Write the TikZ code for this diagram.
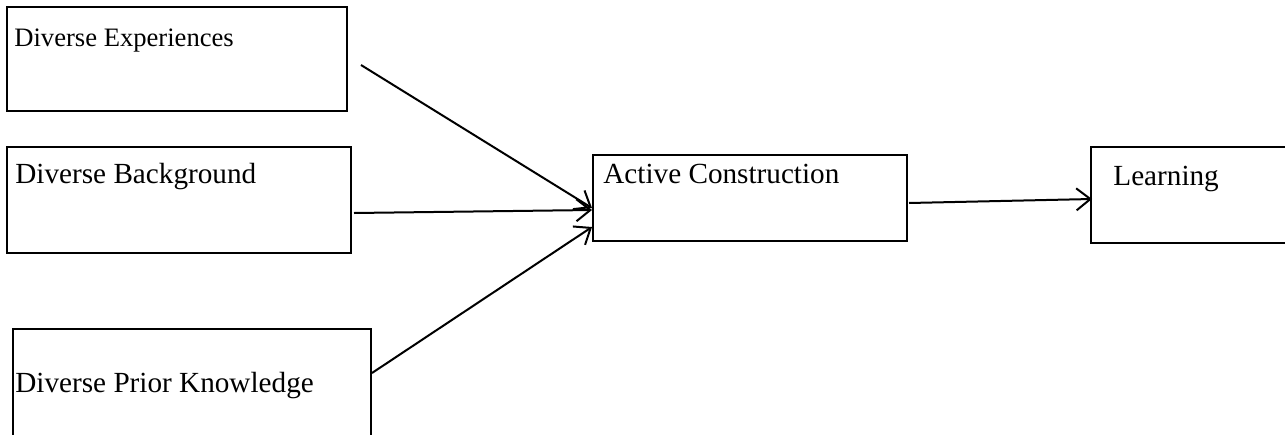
\documentclass[tikz,border=0pt]{standalone}
\usepackage{fontspec}
\setmainfont{Liberation Serif}
\usepackage{tikz}
\usetikzlibrary{arrows.meta}
\usetikzlibrary{calc}
\tikzstyle{fbox}=[draw,line width=1pt,rectangle,inner sep=0pt]
\tikzstyle{ftext}=[anchor=base west,inner sep=0pt,font=\fontsize{14.6}{17}\selectfont]
\tikzstyle{flow}=[line width=1pt,-{Straight Barb[length=7pt,width=11pt,line width=1pt]}]

\begin{document}
\begin{tikzpicture}[x=0.5pt,y=-0.5pt]
	\useasboundingbox (0,0) rectangle (1285,434);
	\node[fbox,minimum width=170pt,minimum height=52pt] (exp) at (177,59)   {};
	\node[fbox,minimum width=172pt,minimum height=53pt] (bg)  at (179,200)  {};
	\node[fbox,minimum width=179pt,minimum height=58pt] (pk)  at (192,387)  {};
	\node[fbox,minimum width=157pt,minimum height=43pt] (act) at (750,198)  {};
	\node[fbox,minimum width=102pt,minimum height=48pt] (lrn) at (1193,195) {};
	\node[ftext,font=\fontsize{13.3}{16}\selectfont] (expT) at (14,46) {Diverse Experiences};
	\node[ftext] (bgT)  at (15,183)  {Diverse Background};
	\node[ftext] (pkT)  at (15,392)  {Diverse Prior Knowledge};
	\node[ftext] (actT) at (603,183) {Active Construction};
	\node[ftext] (lrnT) at (1113,185) {Learning};
	\draw[flow] ($(exp.east)+(13,6)$)  -- ($(act.west)+(0,10)$);
	\draw[flow] ($(bg.east)+(2,13)$)   -- ($(act.west)+(0,12)$);
	\draw[flow] ($(pk.east)+(0,-14)$)  -- ($(act.west)+(0,29)$);
	\draw[flow] ($(act.east)+(1,5)$)   -- ($(lrn.west)+(2,4)$);
\end{tikzpicture}
\end{document}
